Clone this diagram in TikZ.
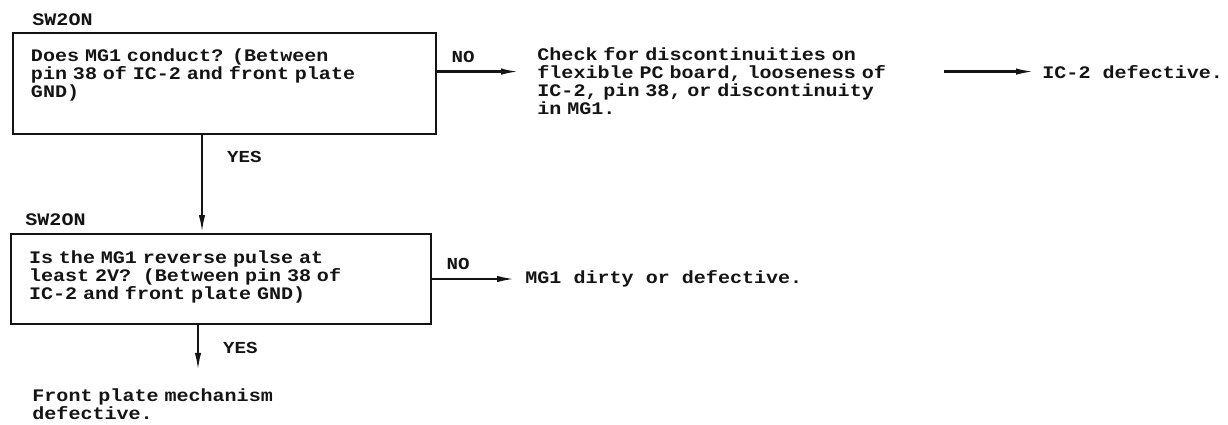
\documentclass[tikz,border=0pt]{standalone}
\usepackage{fontspec}
\usepackage{tikz}
\usetikzlibrary{arrows.meta,calc}
\newfontfamily\typer[FakeStretch=1.14]{Liberation Mono}
\definecolor{ScanInk}{HTML}{141414}
\tikzset{
  >={Latex[length=9pt,width=3.2pt]},
  flow/.style={->,line width=1.1pt,draw=ScanInk},
  box/.style={draw=ScanInk,line width=1pt,anchor=north west,align=left,
    inner xsep=9pt,inner ysep=0pt,text=ScanInk,
    font={\typer\bfseries\fontsize{8.8pt}{9pt}\selectfont}},
  note/.style={anchor=base west,align=left,inner sep=0pt,text=ScanInk,
    font={\typer\bfseries\fontsize{8.8pt}{9pt}\selectfont}},
  tag/.style={inner sep=0pt,text=ScanInk,
    font={\typer\bfseries\fontsize{8.4pt}{9pt}\selectfont}}
}
\begin{document}
\begin{tikzpicture}[x=0.5pt,y=-0.5pt]
    \useasboundingbox (0,0) rectangle (1228,424);
    \coordinate (v1) at (202,0);
    \coordinate (v2) at (198,0);
    % first check
    \node[note] (sw1) at (32,25) {SW2ON};
    \node[box,text width=193.5pt,text height=14pt,text depth=36.5pt] (q1) at (12,32)
      {Does MG1 conduct? (Between\\pin 38 of IC-2 and front plate\\GND)};
    \node[note,text width=187pt] (chk) at (537,60)
      {Check for discontinuities on\\flexible PC board, looseness of\\IC-2, pin 38, or discontinuity\\in MG1.};
    \node[note] (bad2) at (1042,78) {IC-2 defective.};
    % second check
    \node[note] (sw2) at (25,225) {SW2ON};
    \node[box,text width=192pt,text height=14.5pt,text depth=30.5pt] (q2) at (10,233)
      {Is the MG1 reverse pulse at\\least 2V?~ (Between pin 38 of\\IC-2 and front plate GND)};
    \node[note] (dirty) at (525,283) {MG1 dirty or defective.};
    \node[note,text width=150pt] (fin) at (32,401) {Front plate mechanism\\defective.};
    % connectors
    \draw[flow,shorten >=9pt] (q1.east |- bad2) -- (chk.west |- bad2)
      node[tag,pos=0.26,above=4pt] {NO};
    \draw[flow,shorten <=16pt,shorten >=4pt] (chk.east |- bad2) -- (bad2.west);
    \draw[flow] (q1.south -| v1) -- (q2.north -| v1)
      node[tag,pos=0.22,anchor=west,xshift=12pt] {YES};
    \draw[flow,shorten >=5pt] (q2.east) -- (q2.east -| dirty.west)
      node[tag,pos=0.28,above=4pt] {NO};
    \draw[flow,shorten >=8.5pt] (q2.south -| v2) -- (fin.north -| v2)
      node[tag,pos=0.36,anchor=west,xshift=12pt] {YES};
\end{tikzpicture}
\end{document}
